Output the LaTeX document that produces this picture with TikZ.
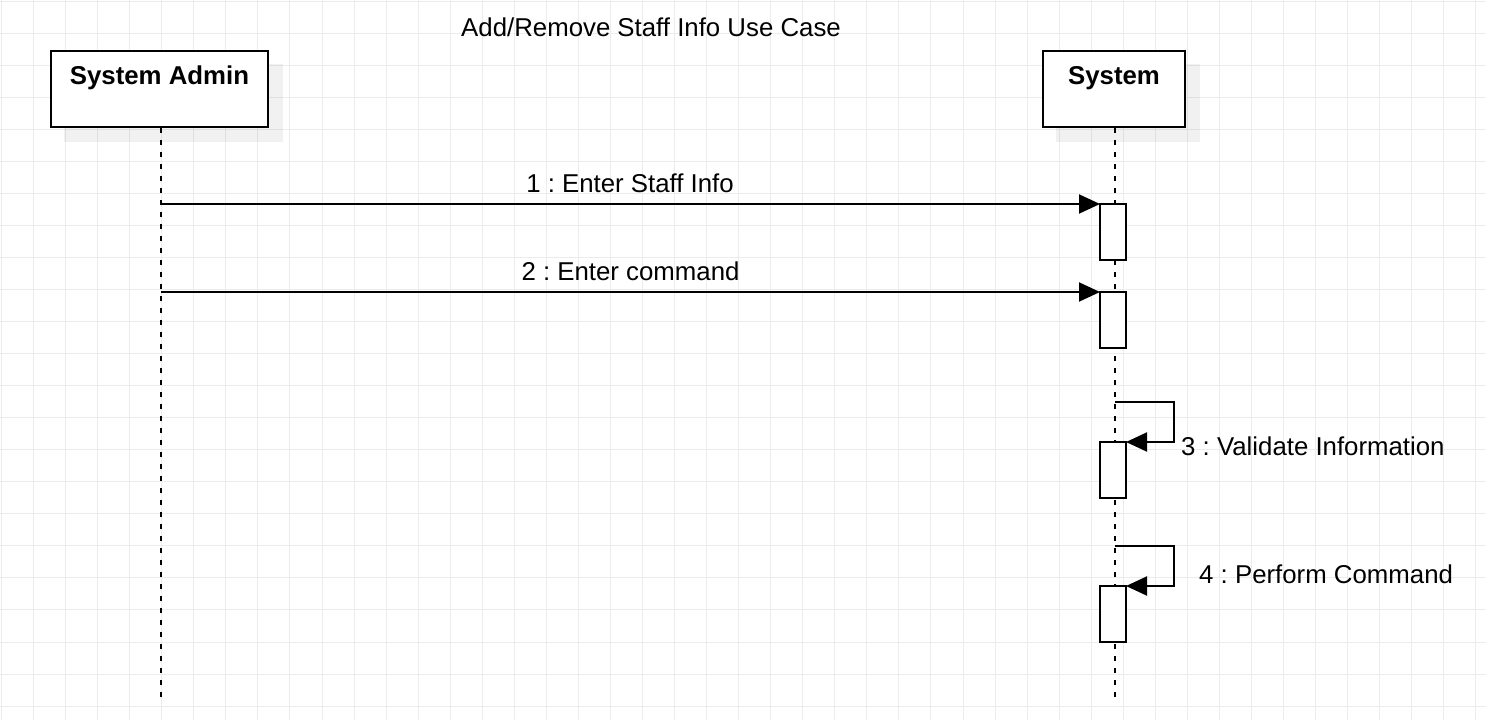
\documentclass[tikz,border=0pt]{standalone}
\usepackage{fontspec}
\setmainfont{Liberation Sans}
\usetikzlibrary{arrows.meta}
\definecolor{gridgray}{RGB}{236,236,236}
\frenchspacing
\begin{document}
\begin{tikzpicture}[x=1pt,y=-1pt,
  gridline/.style={draw=gridgray,line width=1pt},
  shadowbox/.style={fill=black,fill opacity=0.055,draw=none},
  lifebox/.style={draw=black,line width=2pt,fill=white,inner sep=0pt,anchor=center},
  lifeline/.style={line width=2pt,dash pattern=on 5pt off 7pt},
  actbox/.style={draw=black,line width=2pt,fill=white,minimum width=26pt,minimum height=56pt,inner sep=0pt,outer sep=0pt,anchor=north west},
  msg/.style={line width=2pt,-{Triangle[length=21pt,width=19pt]}},
  lbl/.style={font=\fontsize{25.8}{30}\selectfont,inner sep=0pt,anchor=base},
  boldlbl/.style={font=\fontsize{25.8}{30}\selectfont\bfseries,inner sep=0pt,anchor=base},
]
\useasboundingbox (0,0) rectangle (1486,720);
\fill[white] (0,0) rectangle (1486,720);
% grid
\foreach \i in {0,...,46} \draw[gridline] (1.5+32.05*\i,0) -- (1.5+32.05*\i,720);
\foreach \j in {0,...,22} \draw[gridline] (0,1+32.05*\j) -- (1486,1+32.05*\j);

% title
\node[lbl] (title) at (651,36) {Add/Remove Staff Info Use Case};

% shadows
\fill[shadowbox] (64,64) rectangle (283,142);
\fill[shadowbox] (1056,64) rectangle (1200,142);

% lifeline heads
\node[lifebox,minimum width=217pt,minimum height=76pt] (admin) at (159.5,89) {};
\node[boldlbl] (admintxt) at (159.5,84) {System Admin};
\node[lifebox,minimum width=142pt,minimum height=76pt] (sys) at (1114,89) {};
\node[boldlbl] (systxt) at (1114,84) {System};

% lifelines
\coordinate (adminend) at (161,700);
\coordinate (sysend) at (1115,700);
\draw[lifeline] (admin.south -| adminend) -- (adminend);
\draw[lifeline] (sys.south -| sysend) -- (sysend);

% activations
\node[actbox] (a1) at (1100,204) {};
\node[actbox] (a2) at (1100,292) {};
\node[actbox] (a3) at (1100,442) {};
\node[actbox] (a4) at (1100,586) {};

% messages
\coordinate (m1s) at (161,204);
\coordinate (m2s) at (161,292);
\draw[msg] (m1s) -- (a1.north west);
\draw[msg] (m2s) -- (a2.north west);
\node[lbl] (l1) at (630,192) {1 : Enter Staff Info};
\node[lbl] (l2) at (630.5,280) {2 : Enter command};

% self messages
\coordinate (s3) at (1115,402);
\coordinate (s4) at (1115,546);
\draw[msg] (s3) -- (1174,402) -- (1174,442) -- (a3.north east);
\draw[msg] (s4) -- (1174,546) -- (1174,586) -- (a4.north east);
\node[lbl,anchor=base west] (l3) at (1181,455) {3 : Validate Information};
\node[lbl,anchor=base west] (l4) at (1199,583) {4 : Perform Command};
\end{tikzpicture}
\end{document}
